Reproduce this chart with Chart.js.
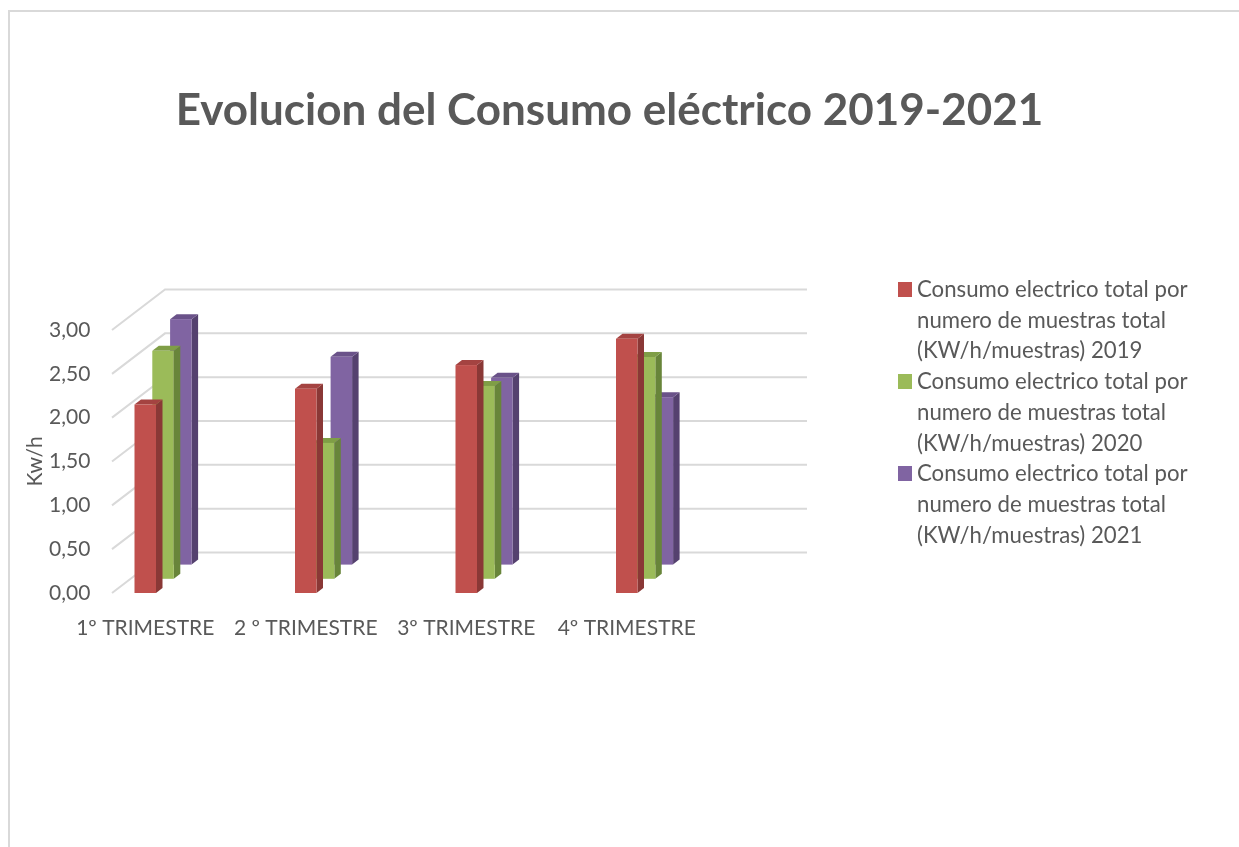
<!DOCTYPE html>
<html>
<head>
<meta charset="utf-8">
<script src="https://cdn.jsdelivr.net/npm/chart.js@4.4.0/dist/chart.umd.min.js"></script>
<style>
html,body{margin:0;padding:0;background:#fff;width:1239px;height:847px;overflow:hidden}
#wrap{position:relative;width:1239px;height:847px;overflow:hidden}
#frame{position:absolute;left:8px;top:10px;width:1300px;height:900px;border-left:2.5px solid #d9d9d9;border-top:2.5px solid #d9d9d9}
#c{position:absolute;left:0;top:0}
#legend{position:absolute;left:898px;top:274px;font-family:Lato,sans-serif;font-size:22.2px;color:#595959;line-height:30.7px}
.item{position:relative;padding-left:19px;width:320px}
.sw{position:absolute;left:0;top:8px;width:14px;height:15px}
</style>
</head>
<body>
<div id="wrap">
  <div id="frame"></div>
  <canvas id="c" width="1239" height="847"></canvas>
  <div id="legend"></div>
</div>
<script>
// ---- data ----
const categories = ['1º TRIMESTRE', '2 º TRIMESTRE', '3º TRIMESTRE', '4º TRIMESTRE'];
const seriesNames = [
  ['Consumo electrico total por', 'numero de muestras total', '(KW/h/muestras) 2019'],
  ['Consumo electrico total por', 'numero de muestras total', '(KW/h/muestras) 2020'],
  ['Consumo electrico total por', 'numero de muestras total', '(KW/h/muestras) 2021']
];
const values2019 = [2.15, 2.33, 2.60, 2.90];
const values2020 = [2.60, 1.55, 2.20, 2.53];
const values2021 = [2.80, 2.37, 2.13, 1.91];
const yMin = 0, yMax = 3, yStep = 0.5;
const titleText = 'Evolucion del Consumo eléctrico 2019-2021';
const yTitle = 'Kw/h';

// ---- styles ----
const faces = [
  {front: '#C0504D', side: '#8A3836', top: '#A44341'},
  {front: '#9BBB59', side: '#68853A', top: '#7F9E46'},
  {front: '#8064A2', side: '#55416F', top: '#6A5289'}
];
const G = {planeShift: 47, wallDX: 53, wallDY: -40.5, rowDX: 17.8, rowDY: -14.2, barDX: 6.5, barDY: -5};
const textColor = '#595959';
const FONT = 'Lato';

const bars3d = {
  id: 'bars3d',
  beforeDatasetsDraw(chart) {
    const {ctx, chartArea: a} = chart;
    const ys = chart.scales.y;
    ctx.save();
    // walls (gridlines)
    ctx.strokeStyle = '#D9D9D9';
    ctx.lineWidth = 2;
    const L = a.left + G.planeShift, R = a.right + G.planeShift;
    ys.ticks.forEach(t => {
      const py = ys.getPixelForValue(t.value);
      ctx.beginPath();
      ctx.moveTo(L, py);
      ctx.lineTo(L + G.wallDX, py + G.wallDY);
      ctx.lineTo(R + G.wallDX, py + G.wallDY);
      ctx.stroke();
    });
    // bars, back row first
    for (let i = chart.data.datasets.length - 1; i >= 0; i--) {
      const meta = chart.getDatasetMeta(i);
      const c = faces[i];
      const ox = i * G.rowDX, oy = i * G.rowDY;
      meta.data.forEach(el => {
        const x0 = el.x - el.width / 2 + ox, x1 = el.x + el.width / 2 + ox;
        const t = el.y + oy, b = el.base + oy;
        ctx.fillStyle = c.side;
        ctx.beginPath();
        ctx.moveTo(x1, t); ctx.lineTo(x1 + G.barDX, t + G.barDY);
        ctx.lineTo(x1 + G.barDX, b + G.barDY); ctx.lineTo(x1, b); ctx.closePath(); ctx.fill();
        ctx.fillStyle = c.top;
        ctx.beginPath();
        ctx.moveTo(x0, t); ctx.lineTo(x0 + G.barDX, t + G.barDY);
        ctx.lineTo(x1 + G.barDX, t + G.barDY); ctx.lineTo(x1, t); ctx.closePath(); ctx.fill();
        ctx.fillStyle = c.front;
        ctx.fillRect(x0, t, x1 - x0, b - t);
      });
    }
    ctx.restore();
    return false;
  }
};

const datasets = [values2019, values2020, values2021].map((v, i) => ({
  label: seriesNames[i].join(' '),
  data: v,
  backgroundColor: faces[i].front,
  barThickness: 21.5,
  grouped: false
}));

const titleSize = 44;
new Chart(document.getElementById('c'), {
  type: 'bar',
  data: {labels: categories, datasets},
  options: {
    responsive: false,
    animation: false,
    layout: {padding: {left: 6, right: 26, top: 0, bottom: 0}},
    plugins: {
      legend: {display: false},
      tooltip: {enabled: false},
      title: {
        display: true, text: titleText, color: textColor,
        font: {family: FONT, size: titleSize, weight: 'bold', lineHeight: 1.2},
        padding: {top: 111 - 0.6 * titleSize, bottom: 219 - 0.6 * titleSize}
      }
    },
    scales: {
      x: {
        offset: true,
        grid: {display: false}, border: {display: false},
        ticks: {color: textColor, font: {family: FONT, size: 21}, padding: 15, maxRotation: 0, autoSkip: false},
        afterFit(s) { s.height = 847 - 593; }
      },
      y: {
        position: 'left', min: yMin, max: yMax,
        grid: {display: false}, border: {display: false},
        ticks: {stepSize: yStep, color: textColor, font: {family: FONT, size: 21}, mirror: true, padding: -16,
          callback: v => v.toFixed(2).replace('.', ',')},
        title: {display: true, text: yTitle, color: textColor, font: {family: FONT, size: 21}, padding: {top: 17, bottom: 0}},
        afterFit(s) { s.width = 59; }
      },
      pad: {
        position: 'right', display: true,
        grid: {display: false}, border: {display: false}, ticks: {display: false},
        afterFit(s) { s.width = 1239 - 26 - 707; }
      }
    }
  },
  plugins: [bars3d]
});

// HTML legend
const lg = document.getElementById('legend');
seriesNames.forEach((lines, i) => {
  const d = document.createElement('div');
  d.className = 'item';
  const sw = document.createElement('span');
  sw.className = 'sw';
  sw.style.background = faces[i].front;
  d.appendChild(sw);
  lines.forEach((ln, k) => {
    if (k) d.appendChild(document.createElement('br'));
    d.appendChild(document.createTextNode(ln));
  });
  lg.appendChild(d);
});
</script>
</body>
</html>
